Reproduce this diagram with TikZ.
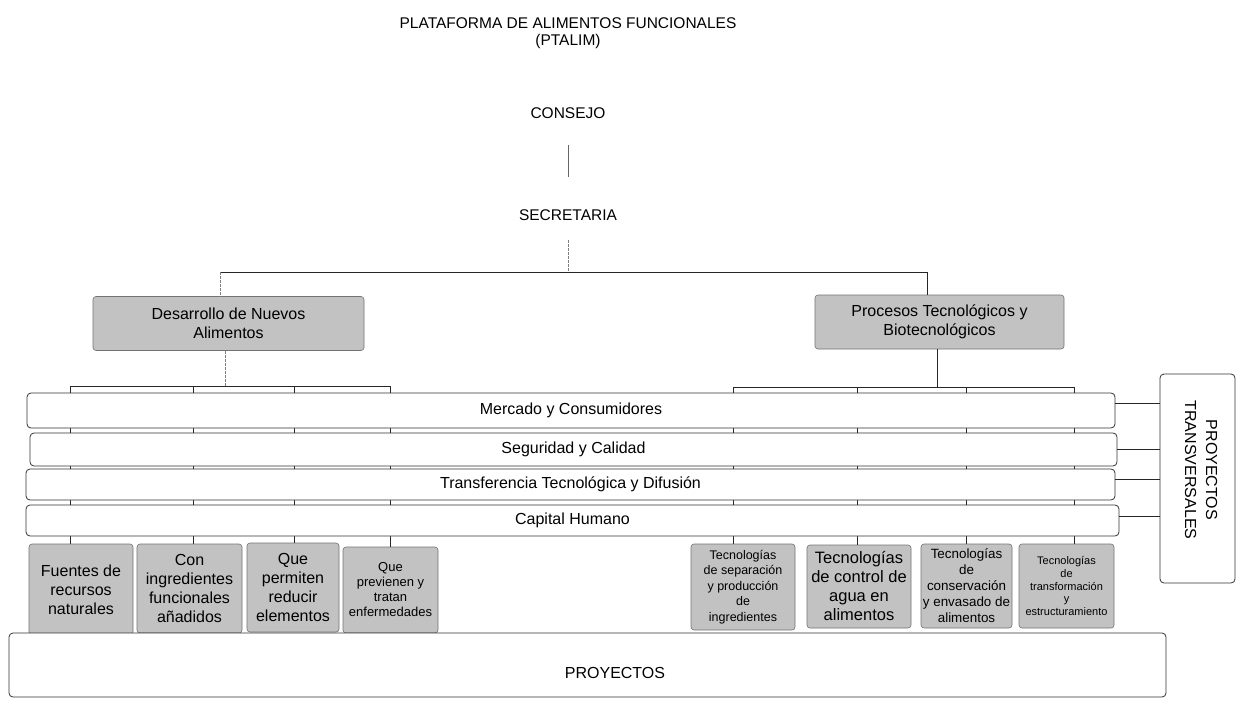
\documentclass[tikz,border=0pt]{standalone}
\usepackage{fontspec}
\setmainfont{Liberation Sans}
\newcommand{\myfs}[2]{\fontsize{#1}{#2}\selectfont}
\begin{document}
\begin{tikzpicture}[x=1pt,y=-1pt,
  gbox/.style={draw=black!55, line width=0.6pt, fill=black!24, rounded corners=3pt, align=center, inner sep=1pt},
  bandbox/.style={draw=black!80, line width=0.8pt, fill=white, rounded corners=4pt, inner sep=0pt},
  lbl/.style={inner sep=0pt, align=center},
  conn/.style={draw=black!85, line width=0.8pt},
  faintline/.style={draw=black!50, line width=0.6pt, dash pattern=on 3pt off 1pt}]
\useasboundingbox (0,0) rectangle (1240,709);

% top texts
\node[lbl, font=\myfs{15.5}{17}] (title) at (568,33) {PLATAFORMA DE ALIMENTOS FUNCIONALES\\(PTALIM)};
\node[lbl, font=\myfs{15.5}{17}] (consejo) at (568,113) {CONSEJO};
\node[lbl, font=\myfs{15.5}{17}] (secretaria) at (568,215) {SECRETARIA};

% main gray boxes
\node[gbox, minimum width=271pt, minimum height=54pt, font=\myfs{16}{19}] (dna) at (228.5,323.5) {Desarrollo de Nuevos\\Alimentos};
\node[gbox, minimum width=249pt, minimum height=54pt, font=\myfs{16}{19}] (pbt) at (939.5,322) {Procesos Tecnológicos y\\Biotecnológicos};

% upper connectors
\coordinate (hubL) at (220,272);
\coordinate (hubR) at (927,272);
\draw[conn, draw=black!60, line width=0.6pt, shorten <=26pt, shorten >=32pt] (consejo.south) -- (secretaria.north);
\draw[faintline, shorten <=19pt] (secretaria.south) -- (secretaria.south |- hubL);
\draw[conn] (hubL) -- (hubR);
\draw[faintline] (hubL) -- (hubL |- dna.north);
\draw[conn] (hubR) -- (hubR |- pbt.north);

% brackets
\coordinate (brL) at (225,386);
\coordinate (brR) at (937,387);
\coordinate (l1) at (70,386);  \coordinate (l2) at (193,386);
\coordinate (l3) at (294,386); \coordinate (l4) at (390,386);
\coordinate (r1) at (733,387); \coordinate (r2) at (857,387);
\coordinate (r3) at (966,387); \coordinate (r4) at (1074,387);
\draw[faintline] (brL |- dna.south) -- (brL);
\draw[conn] (brR |- pbt.south) -- (brR);
\draw[conn] (l1) -- (l4);
\draw[conn] (r1) -- (r4);

% bottom gray boxes
\node[gbox, minimum width=104pt, minimum height=91pt, font=\myfs{16}{19}] (g1) at (81,589.5) {Fuentes de\\recursos\\naturales};
\node[gbox, minimum width=105pt, minimum height=89pt, font=\myfs{16}{19}] (g2) at (189.5,588.5) {Con\\ingredientes\\funcionales\\añadidos};
\node[gbox, minimum width=92pt, minimum height=89pt, font=\myfs{16}{19}] (g3) at (293,587.5) {Que\\permiten\\reducir\\elementos};
\node[gbox, minimum width=95pt, minimum height=86pt, font=\myfs{13}{15}] (g4) at (390.5,590) {Que\\previenen y\\tratan\\enfermedades};
\node[gbox, minimum width=104pt, minimum height=86pt, font=\myfs{12.5}{15.5}] (g5) at (743,587) {Tecnologías\\de separación\\y producción\\de\\ingredientes};
\node[gbox, minimum width=104pt, minimum height=83pt, font=\myfs{16.5}{19}] (g6) at (859,586.5) {Tecnologías\\de control de\\agua en\\alimentos};
\node[gbox, minimum width=91pt, minimum height=84pt, font=\myfs{13.4}{16}] (g7) at (966.5,586) {Tecnologías\\de\\conservación\\y envasado de\\alimentos};
\node[gbox, minimum width=95pt, minimum height=84pt, font=\myfs{11}{12.7}] (g8) at (1066.5,586) {Tecnologías\\de\\transformación\\y\\estructuramiento};

% verticals through the bands
\draw[conn] (l1) -- (l1 |- g1.north);
\draw[conn] (l2) -- (l2 |- g2.north);
\draw[conn] (l3) -- (l3 |- g3.north);
\draw[conn] (l4) -- (l4 |- g4.north);
\draw[conn] (r1) -- (r1 |- g5.north);
\draw[conn] (r2) -- (r2 |- g6.north);
\draw[conn] (r3) -- (r3 |- g7.north);
\draw[conn] (r4) -- (r4 |- g8.north);

% bands
\node[bandbox, minimum width=1088pt, minimum height=35pt, font=\myfs{16}{19}] (mc) at (571,410.5) {Mercado y Consumidores};
\node[bandbox, minimum width=1087pt, minimum height=33pt, font=\myfs{16}{19}] (sc) at (573.5,449.5) {Seguridad y Calidad};
\node[bandbox, minimum width=1089pt, minimum height=31pt, font=\myfs{16}{19}] (tt) at (570.5,484.5) {Transferencia Tecnológica y Difusión};
\node[bandbox, minimum width=1093pt, minimum height=31pt, font=\myfs{16}{19}] (ch) at (572.5,520.5) {Capital Humano};

% transversal projects
\node[bandbox, minimum width=75pt, minimum height=209pt] (trans) at (1197.5,478.5) {};
\node[lbl, rotate=-90, font=\myfs{16}{21}] (transtxt) at (1201,470) {PROYECTOS\\TRANSVERSALES};
\coordinate (e1) at ([yshift=7pt]mc.east);
\coordinate (e2) at (sc.east);
\coordinate (e3) at ([yshift=5pt]tt.east);
\coordinate (e4) at ([yshift=4pt]ch.east);
\draw[conn] (e1) -- (e1 -| trans.west);
\draw[conn] (e2) -- (e2 -| trans.west);
\draw[conn] (e3) -- (e3 -| trans.west);
\draw[conn] (e4) -- (e4 -| trans.west);

% projects
\node[bandbox, minimum width=1157pt, minimum height=64pt] (proy) at (587.5,665) {};
\node[lbl, font=\myfs{16}{19}] (proytxt) at (615,673) {PROYECTOS};
\end{tikzpicture}
\end{document}
